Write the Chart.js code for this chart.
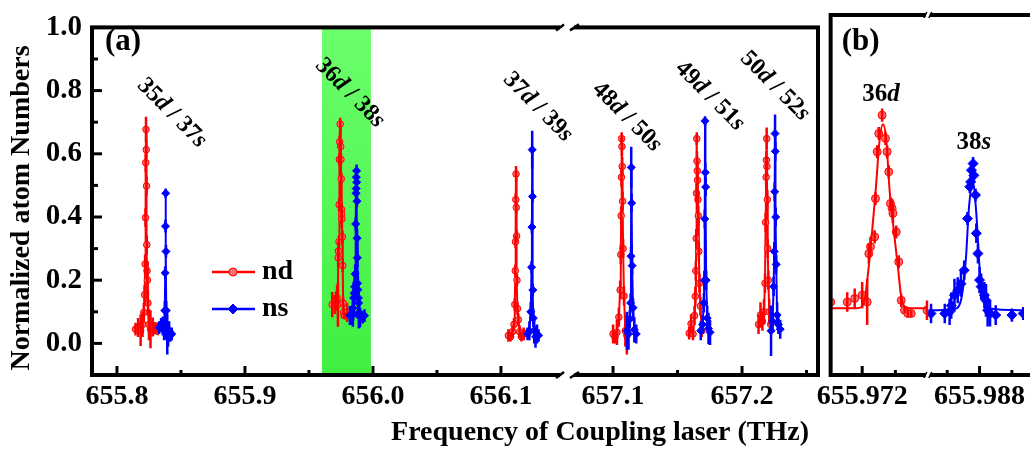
<!DOCTYPE html>
<html><head><meta charset="utf-8">
<script src="https://cdn.jsdelivr.net/npm/chart.js@4.4.0/dist/chart.umd.min.js"></script>
<style>
html,body{margin:0;padding:0;background:#fff;overflow:hidden;width:1030px;height:453px;}
#ca{position:absolute;left:0;top:0;}
#cb{position:absolute;left:780px;top:0;}
</style></head><body>
<canvas id="ca" width="824" height="453"></canvas>
<canvas id="cb" width="250" height="453"></canvas>
<script>
// ---------------- DATA ----------------
const yMajorTicks = [0.0, 0.2, 0.4, 0.6, 0.8, 1.0];
const yMinorTicks = [0.1, 0.3, 0.5, 0.7, 0.9];
const xa1Major = [655.8, 655.9, 656.0, 656.1];
const xa1Minor = [655.85, 655.95, 656.05];
const xa2Major = [657.1, 657.2];
const xa2Minor = [657.15, 657.25];
const xb1Major = [655.972];
const xb1Minor = [655.976];
const xb2Major = [655.988];
const xb2Minor = [655.984, 655.992];
const peakLabels = ['35d / 37s', '36d / 38s', '37d / 39s', '48d / 50s', '49d / 51s', '50d / 52s'];
const legendLabels = ['nd', 'ns'];

// 35d / 37s
const d35_x = [655.8145, 655.8165, 655.8185, 655.8200, 655.8210, 655.8216, 655.8220, 655.8223, 655.8225, 655.8227, 655.8229, 655.8231, 655.8233, 655.8235, 655.8238, 655.8242, 655.8250, 655.8262, 655.8280, 655.8300, 655.8318];
const d35_y = [0.045, 0.050, 0.042, 0.060, 0.098, 0.154, 0.251, 0.398, 0.572, 0.677, 0.613, 0.498, 0.312, 0.230, 0.200, 0.128, 0.060, 0.045, 0.052, 0.048, 0.046];
const d35_e = [0.02, 0.03, 0.05, 0.04, 0.03, 0.03, 0.03, 0.03, 0.03, 0.04, 0.03, 0.03, 0.03, 0.03, 0.06, 0.04, 0.05, 0.06, 0.03, 0.02, 0.02];
const s37_x = [655.8330, 655.8345, 655.8358, 655.8368, 655.8374, 655.8377, 655.8379, 655.8381, 655.8383, 655.8385, 655.8388, 655.8393, 655.8400, 655.8408, 655.8418, 655.8428];
const s37_y = [0.050, 0.060, 0.055, 0.040, 0.104, 0.223, 0.371, 0.475, 0.291, 0.104, 0.050, 0.030, 0.020, 0.040, 0.025, 0.030];
const s37_e = [0.02, 0.02, 0.03, 0.03, 0.03, 0.02, 0.02, 0.015, 0.02, 0.03, 0.04, 0.065, 0.03, 0.03, 0.02, 0.02];
// 36d / 38s (shown in both panels)
const d36_x = [655.9682, 655.9702, 655.9711, 655.9720, 655.9726, 655.9728, 655.9730, 655.9735, 655.9736, 655.9738, 655.9740, 655.9744, 655.9748, 655.9750, 655.9752, 655.9754, 655.9756, 655.9757, 655.9761, 655.9764, 655.9767, 655.9771, 655.9775, 655.9779, 655.9798];
const d36_y = [0.123, 0.123, 0.134, 0.144, 0.123, 0.271, 0.292, 0.322, 0.439, 0.582, 0.638, 0.694, 0.623, 0.582, 0.521, 0.424, 0.409, 0.394, 0.337, 0.246, 0.128, 0.098, 0.088, 0.088, 0.098];
const d36_e = [0.04, 0.03, 0.03, 0.04, 0.07, 0.03, 0.03, 0.02, 0.02, 0.02, 0.02, 0.02, 0.02, 0.02, 0.02, 0.02, 0.03, 0.03, 0.02, 0.02, 0.02, 0.01, 0.01, 0.01, 0.03];
const s38_x = [655.9820, 655.9837, 655.9843, 655.9845, 655.9849, 655.9853, 655.9857, 655.9861, 655.9865, 655.9868, 655.9869, 655.9870, 655.9872, 655.9873, 655.9875, 655.9876, 655.9878, 655.9880, 655.9882, 655.9886, 655.9888, 655.9890, 655.9893, 655.9900, 655.9920, 655.9934];
const s38_y = [0.088, 0.088, 0.093, 0.112, 0.144, 0.159, 0.179, 0.220, 0.378, 0.475, 0.490, 0.526, 0.546, 0.510, 0.450, 0.333, 0.271, 0.190, 0.170, 0.144, 0.128, 0.098, 0.088, 0.083, 0.083, 0.088];
const s38_e = [0.03, 0.03, 0.04, 0.04, 0.05, 0.04, 0.04, 0.03, 0.02, 0.02, 0.02, 0.02, 0.02, 0.02, 0.02, 0.03, 0.03, 0.04, 0.04, 0.04, 0.05, 0.05, 0.04, 0.03, 0.02, 0.02];
// fit curves
const fit36_x = [655.9682, 655.9714, 655.9722, 655.9727, 655.9731, 655.9736, 655.9741, 655.9745, 655.9749, 655.9753, 655.9758, 655.9763, 655.9767, 655.9772, 655.9780, 655.9798];
const fit36_y = [0.104, 0.104, 0.118, 0.210, 0.312, 0.455, 0.618, 0.666, 0.618, 0.465, 0.343, 0.230, 0.139, 0.107, 0.104, 0.104];
const fit38_x = [655.9817, 655.9849, 655.9857, 655.9863, 655.9867, 655.9872, 655.9876, 655.9880, 655.9884, 655.9890, 655.9934];
const fit38_y = [0.098, 0.102, 0.128, 0.251, 0.414, 0.490, 0.394, 0.230, 0.139, 0.104, 0.098];
// 37d / 39s
const d37_x = [656.1058, 656.1075, 656.1090, 656.1102, 656.1108, 656.1112, 656.1114, 656.1116, 656.1118, 656.1120, 656.1122, 656.1125, 656.1129, 656.1136, 656.1146, 656.1160, 656.1178];
const d37_y = [0.025, 0.021, 0.037, 0.060, 0.123, 0.230, 0.322, 0.455, 0.536, 0.430, 0.340, 0.200, 0.110, 0.075, 0.037, 0.021, 0.030];
const d37_e = [0.02, 0.015, 0.02, 0.02, 0.02, 0.02, 0.02, 0.02, 0.025, 0.02, 0.02, 0.02, 0.02, 0.02, 0.02, 0.015, 0.02];
const s39_x = [656.1208, 656.1222, 656.1233, 656.1239, 656.1242, 656.1244, 656.1246, 656.1249, 656.1253, 656.1260, 656.1270, 656.1282, 656.1294];
const s39_y = [0.030, 0.040, 0.100, 0.241, 0.368, 0.613, 0.465, 0.169, 0.080, 0.040, 0.021, 0.030, 0.025];
const s39_e = [0.02, 0.03, 0.03, 0.02, 0.02, 0.06, 0.02, 0.02, 0.03, 0.04, 0.035, 0.03, 0.02];
// 48d / 50s
const d48_x = [657.1000, 657.1015, 657.1030, 657.1045, 657.1055, 657.1060, 657.1063, 657.1065, 657.1067, 657.1069, 657.1071, 657.1074, 657.1078, 657.1085, 657.1095, 657.1107];
const d48_y = [0.030, 0.020, 0.035, 0.083, 0.169, 0.281, 0.404, 0.526, 0.648, 0.623, 0.560, 0.450, 0.300, 0.150, 0.040, 0.025];
const d48_e = [0.03, 0.02, 0.04, 0.03, 0.03, 0.03, 0.03, 0.03, 0.02, 0.03, 0.03, 0.03, 0.03, 0.03, 0.05, 0.06];
const s50_x = [657.1108, 657.1120, 657.1130, 657.1136, 657.1139, 657.1141, 657.1144, 657.1148, 657.1155, 657.1165, 657.1180];
const s50_y = [0.040, 0.030, 0.077, 0.128, 0.276, 0.557, 0.444, 0.246, 0.113, 0.043, 0.030];
const s50_e = [0.06, 0.05, 0.03, 0.03, 0.03, 0.065, 0.03, 0.03, 0.03, 0.04, 0.03];
// 49d / 51s
const d49_x = [657.1590, 657.1605, 657.1620, 657.1632, 657.1638, 657.1642, 657.1645, 657.1647, 657.1649, 657.1651, 657.1653, 657.1655, 657.1658, 657.1661, 657.1665, 657.1670, 657.1677, 657.1688];
const d49_y = [0.032, 0.062, 0.030, 0.088, 0.149, 0.230, 0.332, 0.475, 0.648, 0.577, 0.546, 0.516, 0.455, 0.404, 0.291, 0.190, 0.118, 0.040];
const d49_e = [0.02, 0.03, 0.02, 0.03, 0.03, 0.03, 0.03, 0.03, 0.02, 0.03, 0.03, 0.03, 0.03, 0.03, 0.03, 0.03, 0.03, 0.02];
const s51_x = [657.1680, 657.1694, 657.1704, 657.1708, 657.1711, 657.1713, 657.1715, 657.1718, 657.1722, 657.1730, 657.1740, 657.1752];
const s51_y = [0.040, 0.060, 0.128, 0.200, 0.394, 0.704, 0.541, 0.495, 0.200, 0.080, 0.047, 0.035];
const s51_e = [0.03, 0.03, 0.03, 0.03, 0.03, 0.015, 0.03, 0.03, 0.03, 0.04, 0.05, 0.04];
// 50d / 52s
const d50_x = [657.2128, 657.2143, 657.2158, 657.2170, 657.2178, 657.2183, 657.2187, 657.2189, 657.2191, 657.2193, 657.2196, 657.2199, 657.2204, 657.2211, 657.2222];
const d50_y = [0.060, 0.090, 0.070, 0.100, 0.190, 0.383, 0.526, 0.580, 0.648, 0.560, 0.455, 0.300, 0.200, 0.100, 0.060];
const d50_e = [0.03, 0.04, 0.03, 0.04, 0.03, 0.03, 0.03, 0.03, 0.035, 0.03, 0.03, 0.03, 0.03, 0.04, 0.03];
const s52_x = [657.2225, 657.2237, 657.2245, 657.2250, 657.2253, 657.2256, 657.2258, 657.2261, 657.2265, 657.2272, 657.2282, 657.2296];
const s52_y = [0.040, 0.070, 0.180, 0.291, 0.480, 0.664, 0.608, 0.400, 0.250, 0.090, 0.060, 0.045];
const s52_e = [0.08, 0.03, 0.03, 0.03, 0.03, 0.06, 0.03, 0.03, 0.03, 0.04, 0.03, 0.03];
// green highlighted region (THz)
const bandRange = [655.9602, 655.9984];

// ---------------- HELPERS ----------------
const FONT = "'Liberation Serif','Times New Roman',serif";
Chart.defaults.font.family = FONT;
Chart.defaults.color = '#000';
const RED = '#ff0000', BLUE = '#0000ff';

function pts(xs, ys) { return xs.map((x, i) => ({x: x, y: ys[i]})); }
function mk(xs, ys, es, kind, axis, extra) {
  const red = kind === 'd';
  return Object.assign({
    data: pts(xs, ys), errs: es,
    xAxisID: axis, yAxisID: 'y',
    borderColor: red ? RED : BLUE,
    backgroundColor: red ? '#ff6a6a' : BLUE,
    pointBackgroundColor: red ? '#ff7070' : BLUE,
    pointBorderColor: red ? RED : BLUE,
    pointBorderWidth: 1,
    pointStyle: red ? 'circle' : 'rectRot',
    pointRadius: red ? 3.3 : 4,
    borderWidth: 2,
    showLine: true, tension: 0, errWidth: 2.5
  }, extra || {});
}
function setTicks(major, minor) {
  return function (scale) {
    scale.ticks = major.concat(minor).sort((a, b) => a - b).map(v => ({value: v}));
  };
}
function labelCb(major, digits) {
  return function (value) { return major.indexOf(value) >= 0 ? value.toFixed(digits) : ''; };
}
function xScale(min, max, weight, major, minor, digits) {
  return {
    type: 'linear', position: 'bottom', stack: 'xs', stackWeight: weight,
    min: min, max: max,
    grid: {display: false, drawTicks: false}, border: {display: false},
    afterBuildTicks: setTicks(major, minor),
    afterFit: s => { s.height = 78; },
    ticks: {autoSkip: false, maxRotation: 0, minRotation: 0, padding: 5,
      font: {size: 28, weight: 'bold', family: FONT}, color: '#000',
      callback: labelCb(major, digits)}
  };
}
function font(size, italic) { return (italic ? 'italic ' : '') + 'bold ' + size + 'px ' + FONT; }
function drawMixed(ctx, text, x, y, angle, size) {
  const parts = [];
  for (const ch of text) {
    const it = /[a-z]/.test(ch);
    if (parts.length && parts[parts.length - 1][1] === it) parts[parts.length - 1][0] += ch;
    else parts.push([ch, it]);
  }
  ctx.save();
  ctx.translate(x, y); ctx.rotate(angle * Math.PI / 180);
  ctx.textBaseline = 'middle'; ctx.textAlign = 'left'; ctx.fillStyle = '#000';
  const w = parts.map(p => { ctx.font = font(size, p[1]); return ctx.measureText(p[0]).width; });
  let cx = -w.reduce((a, b) => a + b, 0) / 2;
  parts.forEach((p, i) => { ctx.font = font(size, p[1]); ctx.fillText(p[0], cx, 0); cx += w[i]; });
  ctx.restore();
}
function drawMarker(ctx, style, x, y, r, fill, stroke) {
  ctx.save(); ctx.fillStyle = fill; ctx.strokeStyle = stroke; ctx.lineWidth = 1;
  ctx.beginPath();
  if (style === 'circle') ctx.arc(x, y, r, 0, Math.PI * 2);
  else { ctx.moveTo(x, y - r); ctx.lineTo(x + r, y); ctx.lineTo(x, y + r); ctx.lineTo(x - r, y); ctx.closePath(); }
  ctx.fill(); ctx.stroke(); ctx.restore();
}
function drawBreak(ctx, bx, y, big) {
  ctx.save();
  ctx.fillStyle = '#fff';
  if (big) {
    ctx.fillRect(bx - 7, y - 3, 14, 6);
    ctx.strokeStyle = '#000'; ctx.lineWidth = 2.5;
    ctx.beginPath(); ctx.moveTo(bx - 11, y + 3); ctx.lineTo(bx - 3, y - 3); ctx.stroke();
    ctx.beginPath(); ctx.moveTo(bx + 3, y + 3); ctx.lineTo(bx + 12, y - 3); ctx.stroke();
  } else {
    ctx.fillRect(bx - 2, y - 3, 4, 6);
    ctx.strokeStyle = '#000'; ctx.lineWidth = 1.5;
    ctx.beginPath(); ctx.moveTo(bx - 4, y + 3); ctx.lineTo(bx - 1, y - 3); ctx.stroke();
    ctx.beginPath(); ctx.moveTo(bx + 1, y + 3); ctx.lineTo(bx + 4, y - 3); ctx.stroke();
  }
  ctx.restore();
}
function drawXTicks(ctx, chart, ids) {
  const ca = chart.chartArea;
  ctx.save(); ctx.strokeStyle = '#000'; ctx.lineWidth = 3;
  ids.forEach(id => {
    const s = chart.scales[id];
    s.ticks.forEach(t => {
      const px = s.getPixelForValue(t.value);
      const len = (t.label && t.label !== '') ? 9 : 5;
      ctx.beginPath(); ctx.moveTo(px, ca.bottom); ctx.lineTo(px, ca.bottom - len); ctx.stroke();
    });
  });
  ctx.restore();
}

const errorBarPlugin = {
  id: 'errbars',
  afterDatasetDraw(chart, args) {
    const ds = chart.data.datasets[args.index];
    if (!ds.errs) return;
    const meta = args.meta, ys = meta.yScale, ctx = chart.ctx;
    ctx.save();
    ctx.beginPath();
    ctx.rect(chart.chartArea.left, chart.chartArea.top, chart.chartArea.right - chart.chartArea.left, chart.chartArea.bottom - chart.chartArea.top);
    ctx.clip();
    ctx.strokeStyle = ds.borderColor; ctx.lineWidth = ds.errWidth || 2;
    meta.data.forEach((el, j) => {
      const v = ds.data[j].y, e = ds.errs[j];
      ctx.beginPath();
      ctx.moveTo(el.x, ys.getPixelForValue(v - e));
      ctx.lineTo(el.x, ys.getPixelForValue(v + e));
      ctx.stroke();
    });
    ctx.restore();
  }
};

const yScaleCfg = {
  type: 'linear', position: 'left', min: -0.1, max: 1.0,
  grid: {display: false, drawTicks: false}, border: {display: false},
  afterBuildTicks: setTicks(yMajorTicks, yMinorTicks),
  ticks: {autoSkip: false, padding: 10, font: {size: 29, weight: 'bold', family: FONT}, color: '#000',
    callback: labelCb(yMajorTicks, 1)}
};

// ---------------- PANEL (a) ----------------
const panelAPlugin = {
  id: 'panelA',
  beforeDatasetsDraw(chart) {
    const ctx = chart.ctx, ca = chart.chartArea, s = chart.scales.xa1;
    const x0 = s.getPixelForValue(bandRange[0]), x1 = s.getPixelForValue(bandRange[1]);
    const g = ctx.createLinearGradient(0, ca.top, 0, ca.bottom);
    g.addColorStop(0, '#6cff6c'); g.addColorStop(1, '#40ee40');
    ctx.save(); ctx.fillStyle = g; ctx.fillRect(x0, ca.top, x1 - x0, ca.bottom - ca.top); ctx.restore();
  },
  afterDraw(chart) {
    const ctx = chart.ctx, ca = chart.chartArea, y = chart.scales.y;
    ctx.save();
    ctx.strokeStyle = '#000'; ctx.lineWidth = 4;
    ctx.strokeRect(ca.left, ca.top, ca.right - ca.left, ca.bottom - ca.top);
    ctx.lineWidth = 3;
    yMajorTicks.concat(yMinorTicks).forEach(v => {
      const py = y.getPixelForValue(v);
      const len = yMajorTicks.indexOf(v) >= 0 ? 10 : 6;
      ctx.beginPath(); ctx.moveTo(ca.left, py); ctx.lineTo(ca.left + len, py); ctx.stroke();
    });
    ctx.restore();
    drawXTicks(ctx, chart, ['xa1', 'xa2']);
    const bx = chart.scales.xa1.right;
    drawBreak(ctx, bx, ca.top, true);
    drawBreak(ctx, bx, ca.bottom, true);
    // panel label
    ctx.save(); ctx.fillStyle = '#000'; ctx.textAlign = 'center'; ctx.textBaseline = 'middle';
    ctx.font = font(31, false); ctx.fillText('(a)', 123, 42);
    // axis titles
    ctx.font = font(28, false); ctx.textBaseline = 'alphabetic';
    ctx.fillText('Frequency of Coupling laser (THz)', 600, 440);
    ctx.translate(22, 208); ctx.rotate(-Math.PI / 2); ctx.textBaseline = 'middle';
    ctx.fillText('Normalized atom Numbers', 0, 0);
    ctx.restore();
    // legend
    ctx.save();
    [[RED, 'circle', '#ff7070', 272, legendLabels[0]], [BLUE, 'rectRot', BLUE, 309, legendLabels[1]]].forEach(L => {
      ctx.strokeStyle = L[0]; ctx.lineWidth = 2.5;
      ctx.beginPath(); ctx.moveTo(212, L[3]); ctx.lineTo(255, L[3]); ctx.stroke();
      drawMarker(ctx, L[1], 233, L[3], L[1] === 'circle' ? 4 : 5, L[2], L[0]);
      ctx.fillStyle = '#000'; ctx.font = font(28, false); ctx.textAlign = 'left'; ctx.textBaseline = 'middle';
      ctx.fillText(L[4], 262, L[3]);
    });
    ctx.restore();
    // rotated peak labels
    const pos = [[172, 113], [350, 93], [538, 107], [627, 117], [710, 96], [775, 86]];
    peakLabels.forEach((t, i) => drawMixed(ctx, t, pos[i][0], pos[i][1], 45, 24));
  }
};

new Chart(document.getElementById('ca'), {
  type: 'scatter',
  data: {datasets: [
    mk(s37_x, s37_y, s37_e, 's', 'xa1'), mk(d35_x, d35_y, d35_e, 'd', 'xa1'),
    mk(s38_x, s38_y, s38_e, 's', 'xa1'), mk(d36_x, d36_y, d36_e, 'd', 'xa1'),
    mk(s39_x, s39_y, s39_e, 's', 'xa1'), mk(d37_x, d37_y, d37_e, 'd', 'xa1'),
    mk(s50_x, s50_y, s50_e, 's', 'xa2'), mk(d48_x, d48_y, d48_e, 'd', 'xa2'),
    mk(s51_x, s51_y, s51_e, 's', 'xa2'), mk(d49_x, d49_y, d49_e, 'd', 'xa2'),
    mk(s52_x, s52_y, s52_e, 's', 'xa2'), mk(d50_x, d50_y, d50_e, 'd', 'xa2')
  ]},
  options: {
    responsive: false, animation: false, events: [],
    layout: {padding: {top: 15, right: 6, bottom: 0, left: 0}},
    plugins: {legend: {display: false}, tooltip: {enabled: false}},
    scales: {
      xa1: xScale(655.7805, 656.1516, 475, xa1Major, xa1Minor, 1),
      xa2: xScale(657.0643, 657.2589, 251, xa2Major, xa2Minor, 1),
      y: Object.assign({}, yScaleCfg, {afterFit: s => { s.width = 92; }})
    }
  },
  plugins: [errorBarPlugin, panelAPlugin]
});

// ---------------- PANEL (b) ----------------
const panelBPlugin = {
  id: 'panelB',
  afterDraw(chart) {
    const ctx = chart.ctx, ca = chart.chartArea;
    ctx.save();
    ctx.strokeStyle = '#000'; ctx.lineWidth = 4;
    ctx.beginPath();
    ctx.moveTo(chart.width + 5, ca.top); ctx.lineTo(ca.left, ca.top); ctx.lineTo(ca.left, ca.bottom); ctx.lineTo(chart.width + 5, ca.bottom);
    ctx.stroke();
    ctx.restore();
    drawXTicks(ctx, chart, ['xb1', 'xb2']);
    const bx = chart.scales.xb1.right;
    drawBreak(ctx, bx, ca.top, false);
    drawBreak(ctx, bx, ca.bottom, false);
    ctx.save(); ctx.fillStyle = '#000'; ctx.textAlign = 'center'; ctx.textBaseline = 'middle';
    ctx.font = font(31, false); ctx.fillText('(b)', ca.left + 30, 42);
    ctx.restore();
    const sx1 = chart.scales.xb1, sx2 = chart.scales.xb2;
    drawMixed(ctx, '36d', sx1.getPixelForValue(655.9744) - 1, 95, 0, 25);
    drawMixed(ctx, '38s', sx2.getPixelForValue(655.9873), 143, 0, 25);
  }
};

const fitOpts = {showLine: true, pointRadius: 0, borderWidth: 2, cubicInterpolationMode: 'monotone'};
new Chart(document.getElementById('cb'), {
  type: 'scatter',
  data: {datasets: [
    Object.assign({data: pts(fit36_x, fit36_y), xAxisID: 'xb1', yAxisID: 'y', borderColor: RED}, fitOpts),
    Object.assign({data: pts(fit38_x, fit38_y), xAxisID: 'xb2', yAxisID: 'y', borderColor: BLUE}, fitOpts),
    mk(d36_x, d36_y, d36_e, 'd', 'xb1', {showLine: false, pointRadius: 4, errWidth: 2.5}),
    mk(s38_x, s38_y, s38_e, 's', 'xb2', {showLine: false, pointRadius: 5, errWidth: 2.5})
  ]},
  options: {
    responsive: false, animation: false, events: [],
    layout: {padding: {top: 15, right: 0, bottom: 0, left: 50}},
    plugins: {legend: {display: false}, tooltip: {enabled: false}},
    scales: {
      xb1: xScale(655.9682, 655.9799, 99, xb1Major, xb1Minor, 3),
      xb2: xScale(655.9816, 655.9935, 98, xb2Major, xb2Minor, 3),
      y: Object.assign({}, yScaleCfg, {display: false})
    }
  },
  plugins: [errorBarPlugin, panelBPlugin]
});
</script>
</body></html>
